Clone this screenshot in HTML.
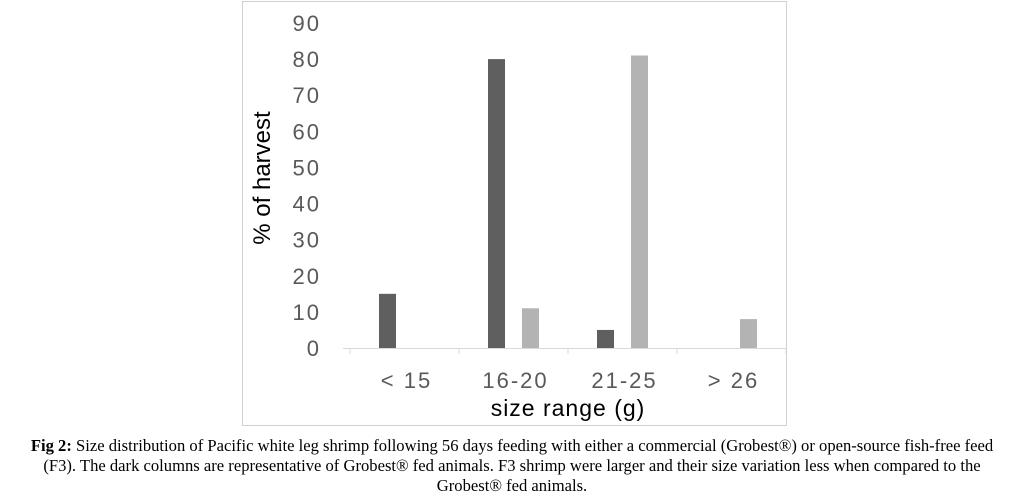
<!DOCTYPE html>
<html><head><meta charset="utf-8"><style>
body{margin:0;width:1024px;height:496px;background:#fff;overflow:hidden;position:relative}
.cap{position:absolute;left:0;top:436px;width:1024px;text-align:center;font-family:"Liberation Serif",serif;font-size:16.6px;line-height:20px;color:#000;white-space:nowrap}
</style></head><body>
<svg width="1024" height="430" style="position:absolute;left:0;top:0">
<rect x="242.5" y="1.5" width="544" height="424" fill="#fff" stroke="#d0d0d0"/>
<g id="g"></g>
<text x="568" y="416" text-anchor="middle" font-family="Liberation Sans,sans-serif" font-size="23" letter-spacing="1" fill="#000">size range (g)</text>
<text transform="translate(270,178) rotate(-90)" text-anchor="middle" font-family="Liberation Sans,sans-serif" font-size="24" fill="#000">% of harvest</text>
</svg>
<div class="cap"><b>Fig 2:</b> Size distribution of Pacific white leg shrimp following 56 days feeding with either a commercial (Grobest®) or open-source fish-free feed<br>(F3). The dark columns are representative of Grobest® fed animals. F3 shrimp were larger and their size variation less when compared to the<br>Grobest® fed animals.</div>
<script>
const categories=["< 15","16-20","21-25","> 26"];
const grobest=[15,80,5,0];
const f3=[0,11,81,8];
const yTicks=[0,10,20,30,40,50,60,70,80,90];
const NS="http://www.w3.org/2000/svg",g=document.getElementById('g');
const x0=350,bw=109,y0=348,yScale=v=>y0-v*(325/90);
function el(t,a){const e=document.createElementNS(NS,t);for(const k in a)e.setAttribute(k,a[k]);g.appendChild(e);return e;}
yTicks.forEach(v=>{const t=el('text',{x:321,y:yScale(v)+8,'text-anchor':'end','font-family':'Liberation Sans,sans-serif','font-size':22,'letter-spacing':2,fill:'#595959'});t.textContent=v;

});
const ax=el('line',{x1:343,x2:786,y1:y0+0.5,y2:y0+0.5,stroke:'#d9d9d9'});


for(let i=0;i<=categories.length;i++){const l=el('line',{x1:x0+i*bw,x2:x0+i*bw,y1:y0,y2:y0+6,stroke:'#d9d9d9'});

}
categories.forEach((c,i)=>{
const cx=x0+i*bw;
const t=el('text',{x:cx+bw/2+2,y:388,'text-anchor':'middle','font-family':'Liberation Sans,sans-serif','font-size':22,'letter-spacing':2,fill:'#595959'});t.textContent=c;


if(grobest[i]>0){const r=el('rect',{x:cx+29,y:yScale(grobest[i]),width:17,height:y0-yScale(grobest[i]),fill:'#5f5f5f'});

}
if(f3[i]>0){const r=el('rect',{x:cx+63,y:yScale(f3[i]),width:17,height:y0-yScale(f3[i]),fill:'#b3b3b3'});

}
});
</script>
</body></html>
